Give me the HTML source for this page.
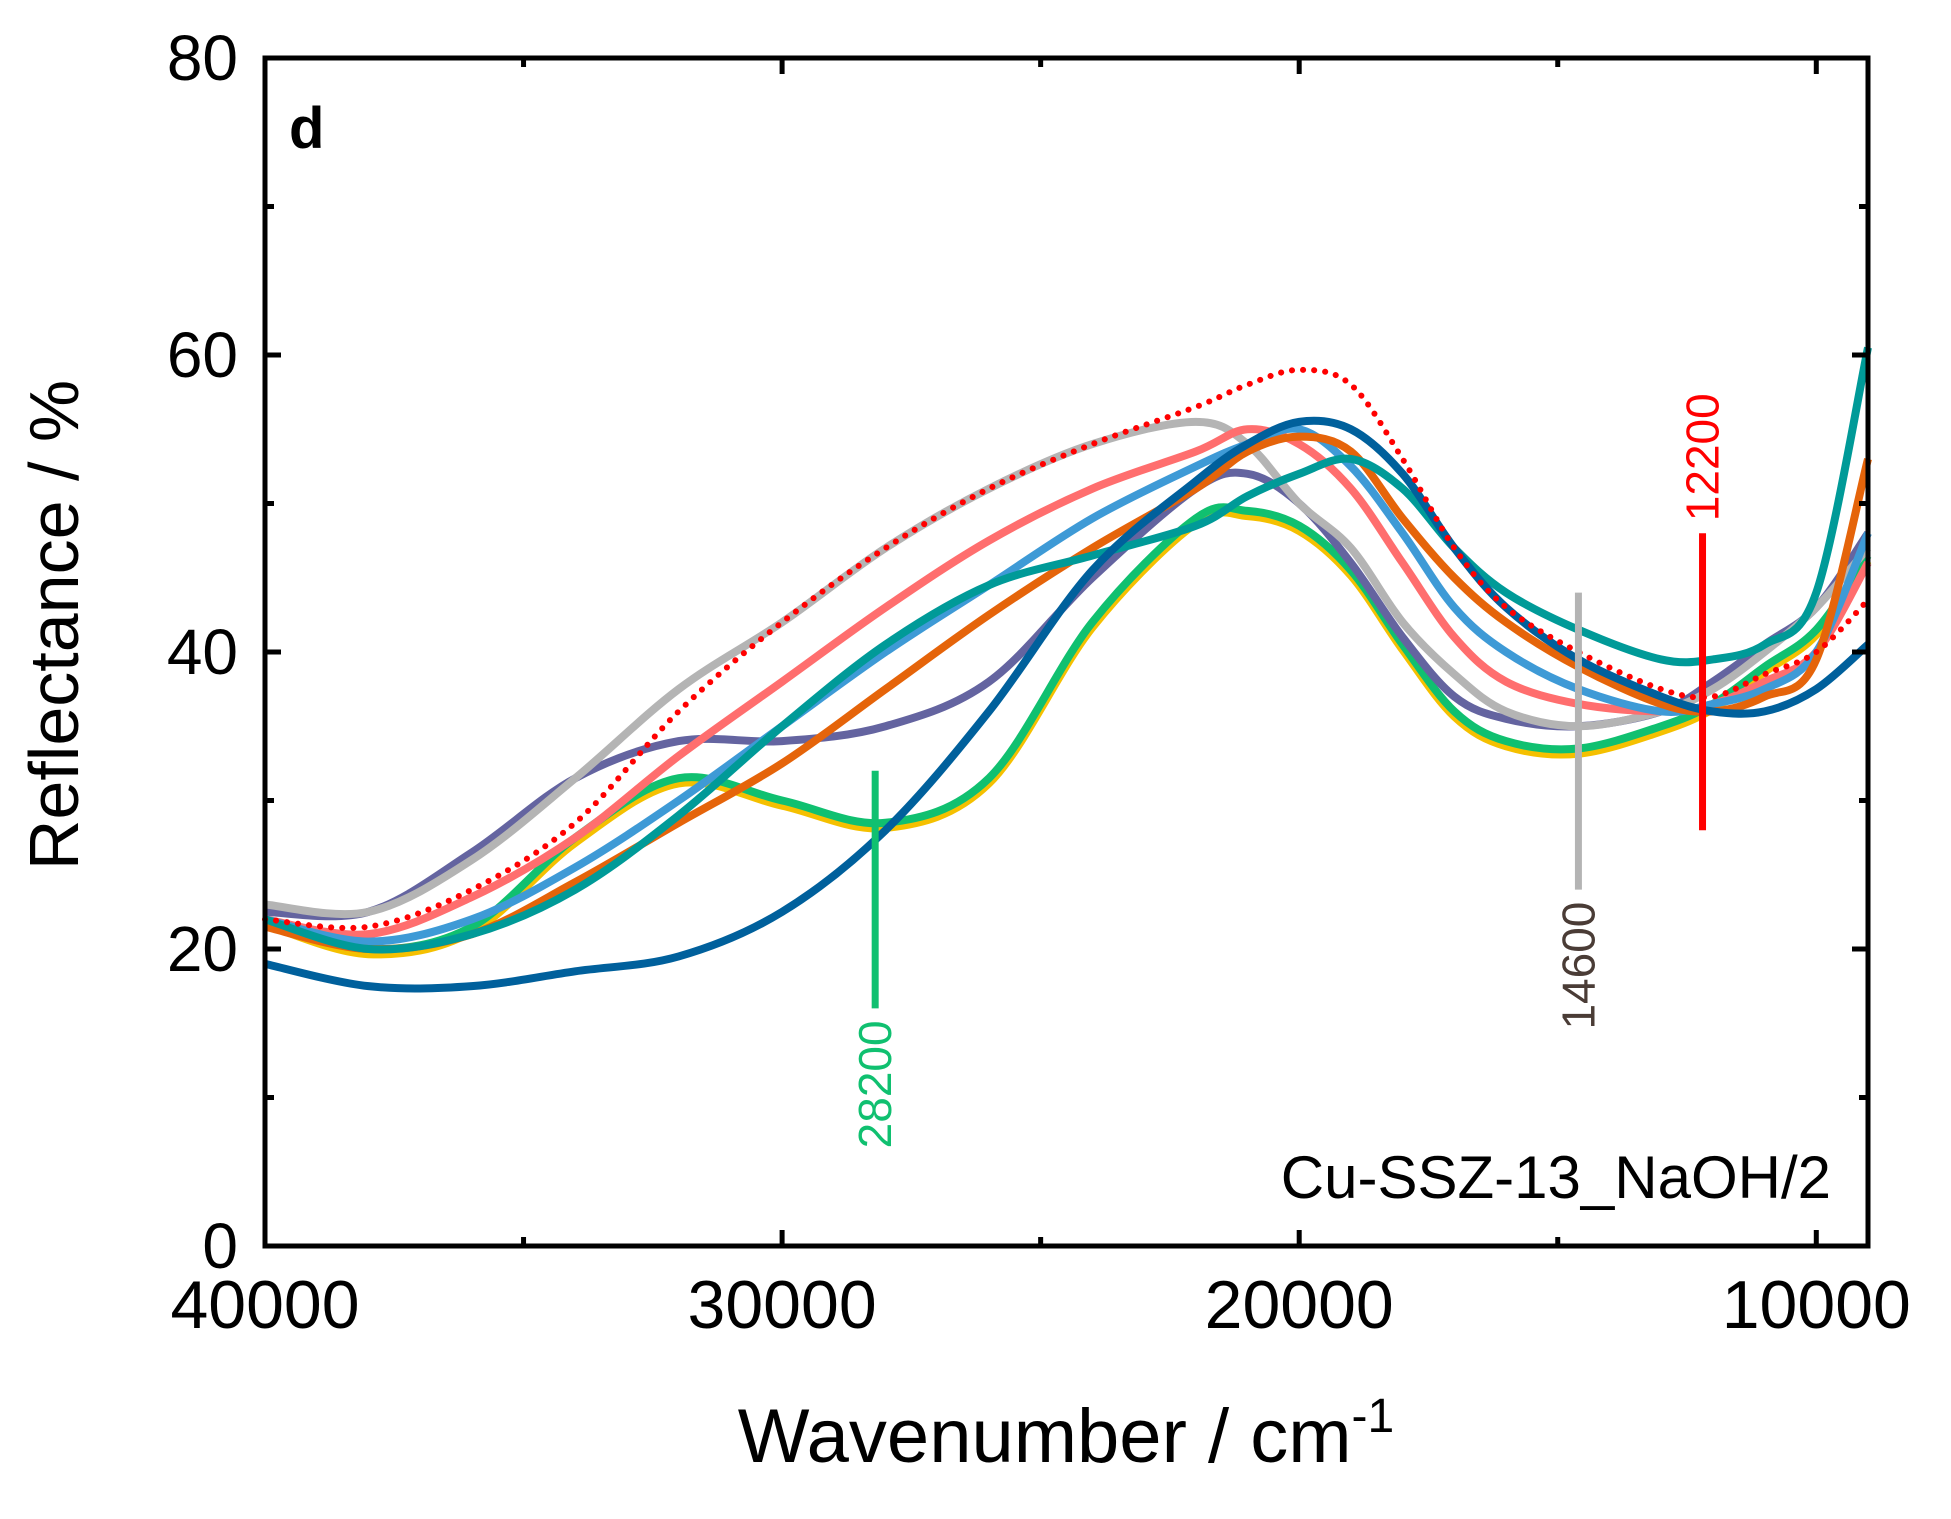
<!DOCTYPE html>
<html><head><meta charset="utf-8"><style>
html,body{margin:0;padding:0;background:#fff;}
svg{display:block;font-family:"Liberation Sans",Arial,sans-serif;}
</style></head><body>
<svg id="chart" width="1951" height="1519" viewBox="0 0 1951 1519" xmlns="http://www.w3.org/2000/svg">
<g id="series"></g>
<g id="axes"></g>
</svg>
<script>
const wn = [40000,38000,36000,34000,32000,30000,28000,26000,24000,22000,21000,20000,19000,18000,17000,16000,14600,13000,12000,11000,10000,9000];
const redDotted = [22,21.5,24,28.5,36,42,47,51,54,56.5,58,59,58,53,47,43,40,37.5,37,38.5,40,43.5];
const grayS = [23,22.5,26,31.5,37.5,42,47,51,54,55.5,54,50,47,42,38.5,36,35,36,37.5,40,43,47];
const pinkS = [22,21,23.5,27.5,33,38,43,47.5,51,53.5,55,54,51,46,41,38,36.5,36,36.5,38,40,46];
const lightBlueS = [22,20.5,22,25.5,30,35,40,44.5,49,52.5,54,55,52.5,48,43,40,37.5,36,36.5,37.5,40,48];
const orangeS = [21.5,20,21,24.5,28.5,32.5,37.5,42.5,47,51,53.5,54.5,53.5,49,45,42,39,36.5,36,37,39.5,53];
const tealS = [22,20,21,24,29,35,40.5,44.5,46.5,48.5,50.5,52,53,51,47,44,41.5,39.5,39.5,40.5,44,60.5];
const purpleS = [22.5,22.5,26.5,31.5,34,34,35,38,45,51,52,50,46,41,37,35.5,35,36,38,40.5,43,48];
const greenS = [22,20,21.5,27.5,31.5,30,28.5,31.5,42,49,49.5,48.5,45.5,40.5,36,34,33.5,35,36.5,39,41.5,46.5];
const darkBlueS = [19,17.5,17.5,18.5,19.5,22.5,28,36,45.5,51.5,54,55.5,55,52,47,43,39.5,37,36,36,37.5,40.5];
const seriesList = [
 ["series-yellow","#f5c000",greenS,8,-0.35],
 ["series-green","#10c070",greenS,8,0],
 ["series-purple","#6464a0",purpleS,8,0],
 ["series-gray","#b4b4b4",grayS,8,0],
 ["series-pink","#ff6e6e",pinkS,8,0],
 ["series-light-blue","#3e9ad6",lightBlueS,8,0],
 ["series-orange","#e5640a",orangeS,8,0],
 ["series-teal","#009a98",tealS,8,0],
 ["series-dark-blue","#00609c",darkBlueS,8,0]
];
const markWn = [28200,14600,12200];
const markTop = [32,44,48];
const markBot = [16,24,28];
const markLabels = ["28200","14600","12200"];
const xTicks = [40000,30000,20000,10000];
const xMinor = [35000,25000,15000];
const yTicks = [0,20,40,60,80];
const yMinor = [10,30,50,70];

const L=265,R=1868,T=58,B=1246;
const X=w=>L+(40000-w)/31000*(R-L);
const Y=v=>B-v/80*(B-T);
const NS="http://www.w3.org/2000/svg";
function mk(tag,attrs,parent){const e=document.createElementNS(NS,tag);for(const k in attrs)e.setAttribute(k,attrs[k]);parent.appendChild(e);return e;}
function smooth(vals,off){
  const p=wn.map((w,i)=>[X(w),Y(vals[i]+off)]);
  let d="M"+p[0][0]+","+p[0][1];
  for(let i=0;i<p.length-1;i++){
    const p0=p[i-1]||p[i],p1=p[i],p2=p[i+1],p3=p[i+2]||p[i+1];
    d+=" C"+(p1[0]+(p2[0]-p0[0])/6)+","+(p1[1]+(p2[1]-p0[1])/6)+" "+(p2[0]-(p3[0]-p1[0])/6)+","+(p2[1]-(p3[1]-p1[1])/6)+" "+p2[0]+","+p2[1];
  }
  return d;
}
const sg=document.getElementById('series');
const ax=document.getElementById('axes');
seriesList.forEach(s=>{
  const e=mk('path',{d:smooth(s[2],s[4]),fill:'none',stroke:s[1],'stroke-width':s[3],'stroke-linejoin':'round'},sg);
  
  
});
const rd=mk('path',{d:smooth(redDotted,0),fill:'none',stroke:'#ff0000','stroke-width':6,'stroke-dasharray':'0.1 11','stroke-linecap':'round'},sg);


const mColors=["#10c070","#b4b4b4","#ff0000"];
const lColors=["#10c070","#4a3c36","#ff0000"];
markWn.forEach((w,i)=>{
  const ln=mk('line',{x1:X(w),x2:X(w),y1:Y(markTop[i]),y2:Y(markBot[i]),stroke:mColors[i],'stroke-width':7},sg);
  
  
  const x=X(w)+16, above=(i===2);
  const yAnchor= above? Y(markTop[i])-12 : Y(markBot[i])+12;
  const t=mk('text',{x:0,y:0,transform:`translate(${x},${yAnchor}) rotate(-90)`,'font-size':46,fill:lColors[i],'text-anchor':above?'start':'end'},sg);
  t.textContent=markLabels[i];
  
  
});
const fr=mk('rect',{x:L,y:T,width:R-L,height:B-T,fill:'none',stroke:'#000','stroke-width':5},ax);


xTicks.forEach(w=>{
  mk('line',{x1:X(w),x2:X(w),y1:B,y2:B-16,stroke:'#000','stroke-width':5},ax);
  mk('line',{x1:X(w),x2:X(w),y1:T,y2:T+16,stroke:'#000','stroke-width':5},ax);
  const t=mk('text',{x:X(w),y:B+82,'font-size':68,'text-anchor':'middle',fill:'#000'},ax);
  t.textContent=w;
  
  
});
xMinor.forEach(w=>{
  mk('line',{x1:X(w),x2:X(w),y1:B,y2:B-9,stroke:'#000','stroke-width':5},ax);
  mk('line',{x1:X(w),x2:X(w),y1:T,y2:T+9,stroke:'#000','stroke-width':5},ax);
});
yTicks.forEach(v=>{
  mk('line',{x1:L,x2:L+16,y1:Y(v),y2:Y(v),stroke:'#000','stroke-width':5},ax);
  mk('line',{x1:R,x2:R-16,y1:Y(v),y2:Y(v),stroke:'#000','stroke-width':5},ax);
  const t=mk('text',{x:238,y:Y(v)+22,'font-size':64,'text-anchor':'end',fill:'#000'},ax);
  t.textContent=v;
  
  
});
yMinor.forEach(v=>{
  mk('line',{x1:L,x2:L+9,y1:Y(v),y2:Y(v),stroke:'#000','stroke-width':5},ax);
  mk('line',{x1:R,x2:R-9,y1:Y(v),y2:Y(v),stroke:'#000','stroke-width':5},ax);
});
const xt=mk('text',{x:1066,y:1462,'font-size':76,'text-anchor':'middle',fill:'#000'},ax);
xt.innerHTML='Wavenumber / cm<tspan dy="-30" font-size="48">-1</tspan>';


const yt=mk('text',{x:0,y:0,transform:'translate(78,625) rotate(-90)','font-size':70,'text-anchor':'middle',fill:'#000'},ax);
yt.textContent='Reflectance / %';


const pl=mk('text',{x:289,y:148,'font-size':58,'font-weight':'bold',fill:'#000'},ax);
pl.textContent='d';


const sl=mk('text',{x:1831,y:1198,'font-size':60,'text-anchor':'end',fill:'#000'},ax);
sl.textContent='Cu-SSZ-13_NaOH/2';


</script>
</body></html>
